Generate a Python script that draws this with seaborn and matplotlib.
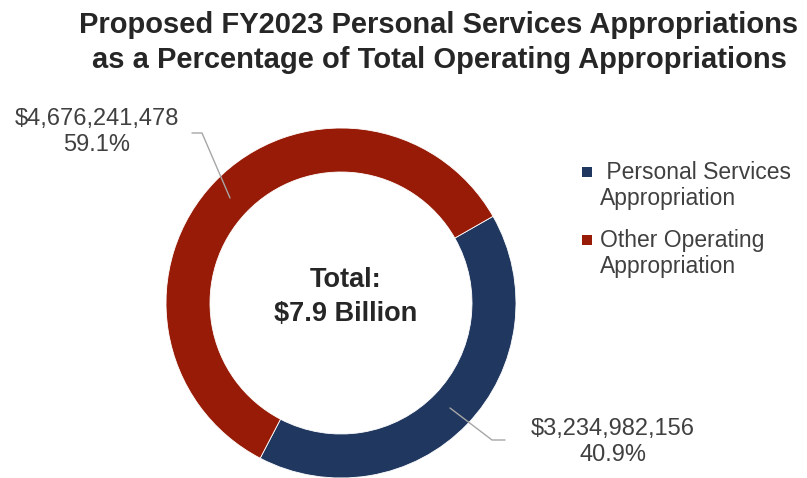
import matplotlib
matplotlib.use("Agg")
import matplotlib.pyplot as plt
import seaborn as sns

# data
categories = ["Personal Services Appropriation", "Other Operating Appropriation"]
legend_labels = [" Personal Services\nAppropriation", "Other Operating\nAppropriation"]
amounts = [3234982156, 4676241478]
slice_colors = ["#20375F", "#971B06"]

TITLE = ("Proposed FY2023 Personal Services Appropriations\n"
         "as a Percentage of Total Operating Appropriations")

W, H = 807, 478
TEXT_DARK = "#262626"
TEXT_GRAY = "#404040"
LINE_GRAY = "#A6A6A6"


def fy(y):
    # pixel row (from top) -> axis y (from bottom)
    return H - y


sns.set_theme(style="white")
plt.rcParams["font.family"] = ["Liberation Sans", "DejaVu Sans"]
palette = sns.color_palette(slice_colors)

fig = plt.figure(figsize=(W / 100, H / 100), dpi=100)
ax = fig.add_axes([0, 0, 1, 1])

cx, cy, r_out, ring = 341, fy(303), 175, 44
wedges, _ = ax.pie(
    amounts,
    colors=palette,
    startangle=29.7,
    counterclock=False,
    radius=r_out,
    center=(cx, cy),
    wedgeprops=dict(width=ring, edgecolor="white", linewidth=0.6),
)
ax.set_xlim(0, W)
ax.set_ylim(0, H)
ax.set_aspect("equal")
ax.axis("off")

total = sum(amounts)

# title
ax.text(439, fy(11), TITLE, ha="center", va="top", fontsize=21, fontweight="bold",
        color=TEXT_DARK, linespacing=1.3)

# centre text
ax.text(346, fy(297), f"Total:\n${total / 1e9:.1f} Billion", ha="center", va="center",
        fontsize=19.5, fontweight="bold", color=TEXT_DARK, linespacing=1.38)

# data labels with leader lines
label_pos = [(613, 442), (97, 132)]
leaders = [
    [(450, 408), (492, 440), (505, 440)],
    [(230, 198), (202, 133), (192, 133)],
]
for amt, (lx, ly), pts in zip(amounts, label_pos, leaders):
    ax.text(lx, fy(ly), f"${amt:,}\n{amt / total * 100:.1f}%", ha="center", va="center",
            fontsize=17, color=TEXT_GRAY, linespacing=1.22)
    xs = [p[0] for p in pts]
    ys = [fy(p[1]) for p in pts]
    ax.plot(xs, ys, color=LINE_GRAY, linewidth=1)

# legend
leg_y = [172, 240]
for lab, col, y in zip(legend_labels, palette, leg_y):
    ax.scatter([587], [fy(y)], marker="s", s=48, color=col, linewidths=0)
    ax.text(600, fy(y) + 11, lab, ha="left", va="top", fontsize=16.5, color=TEXT_GRAY,
            linespacing=1.15)

fig.savefig("out.png", dpi=100)
